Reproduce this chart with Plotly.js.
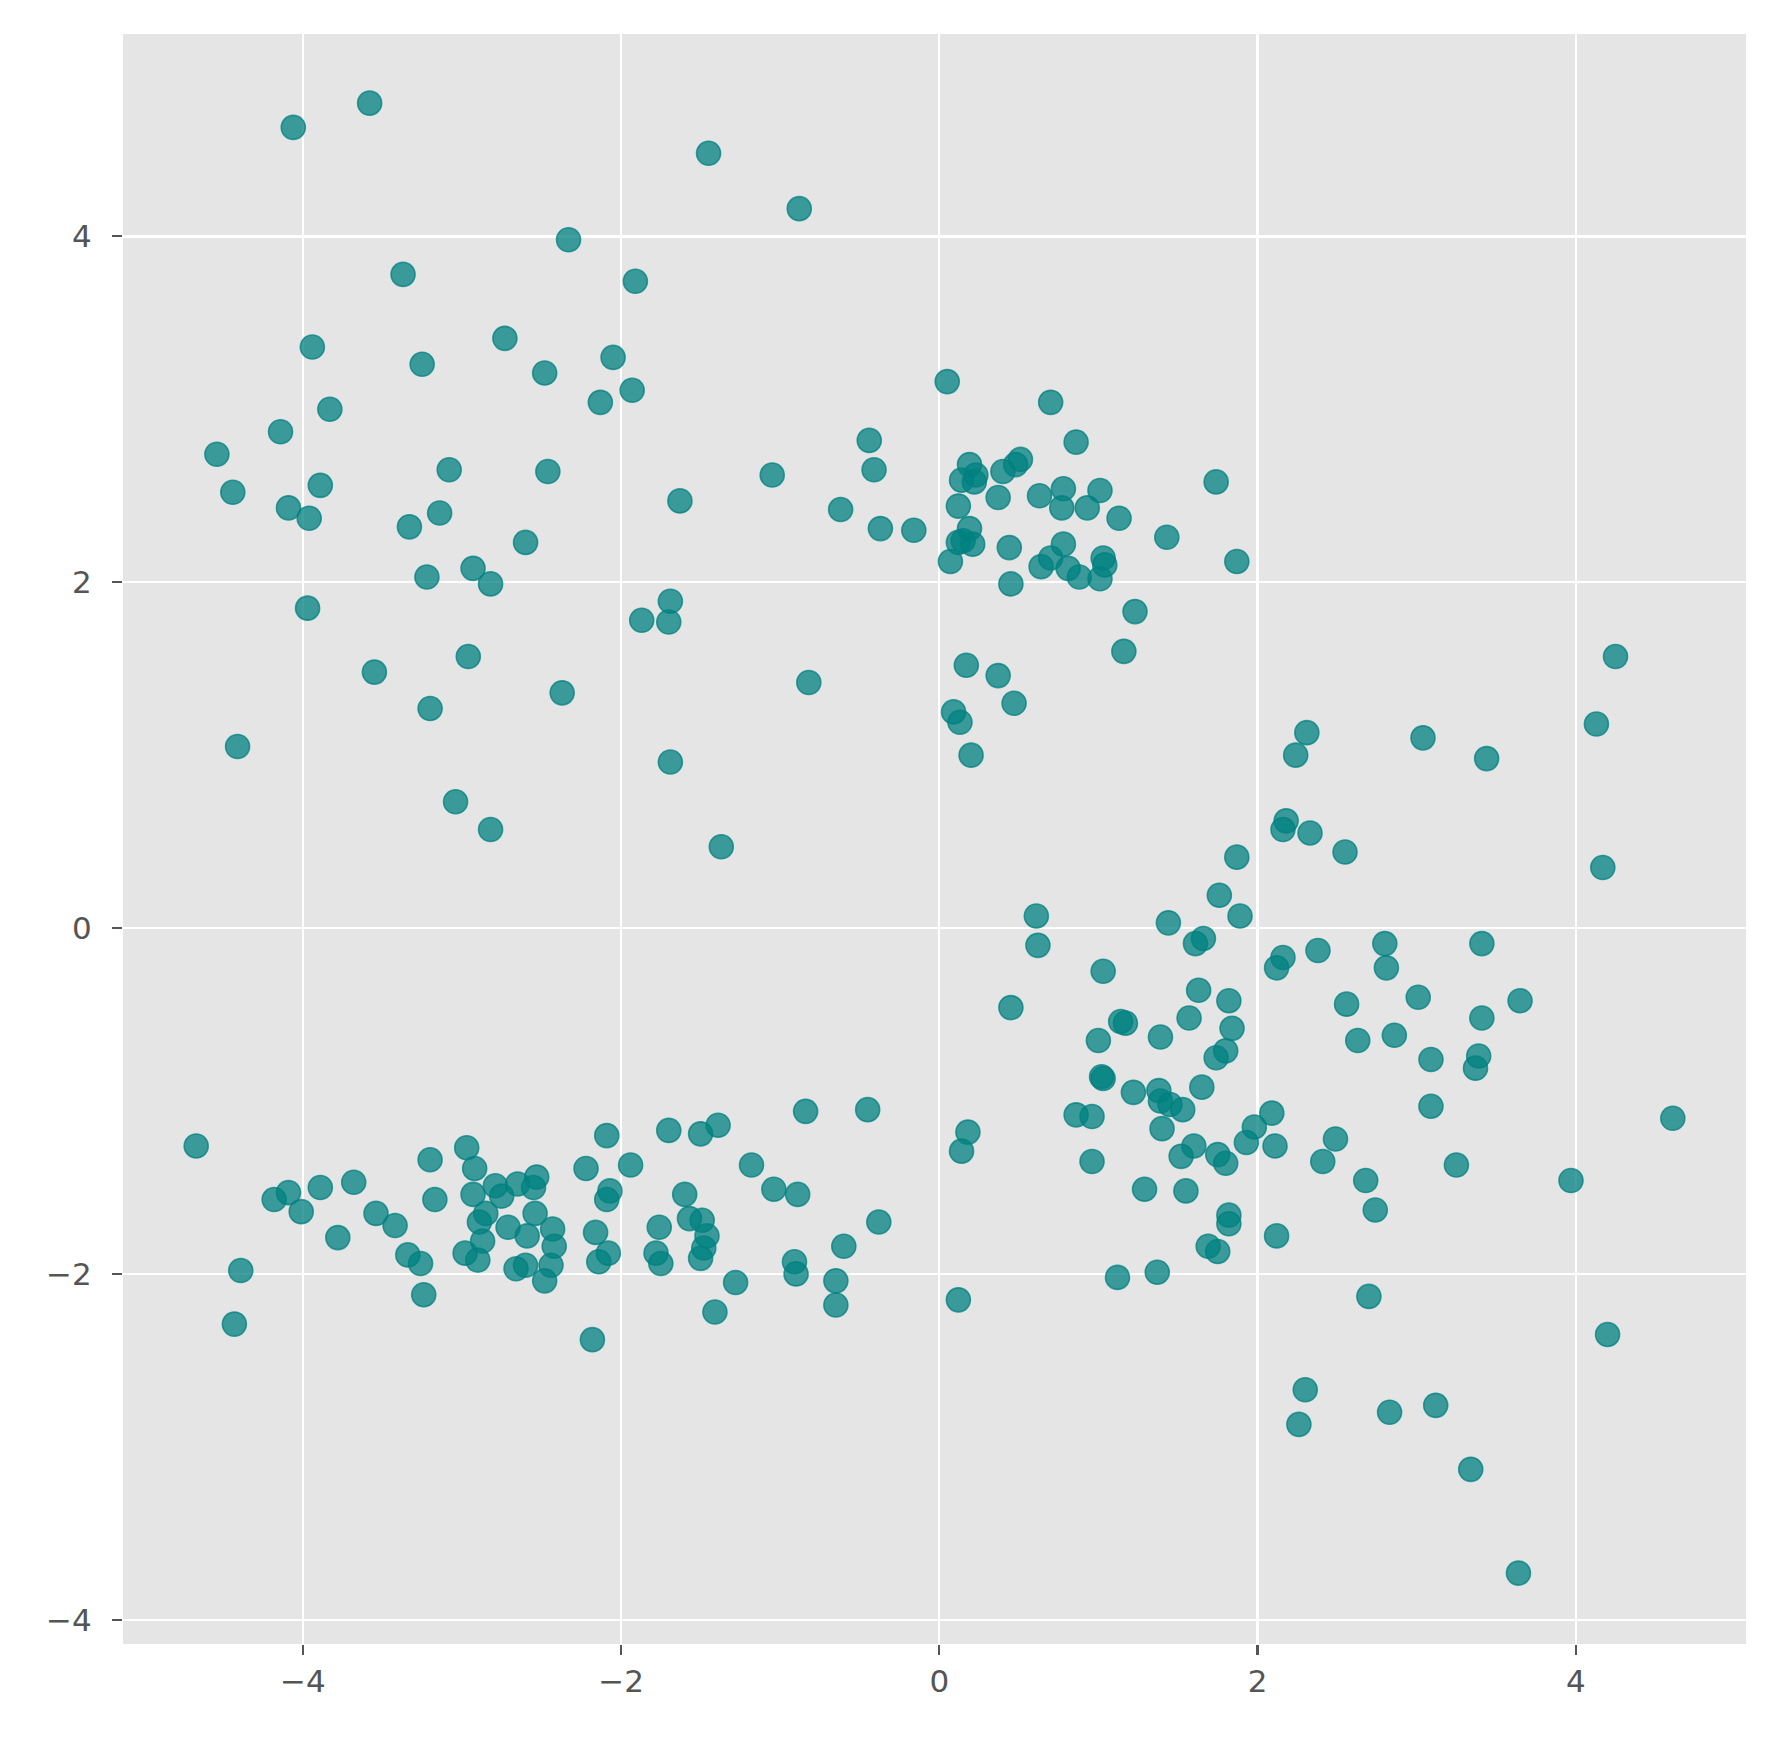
<!DOCTYPE html>
<html>
<head>
<meta charset="utf-8">
<script src="https://cdn.plot.ly/plotly-3.0.1.min.js"></script>
<style>
  html, body { margin: 0; padding: 0; background: #ffffff; }
  #chart { width: 1778px; height: 1746px; }
</style>
</head>
<body>
<div id="chart"></div>
<script>
// Upper-left group
const xUpperLeft = [-3.58,-4.06,-1.45,-0.88,-2.33,-3.37,-1.91,-3.94,-2.73,-3.25,-2.48,-2.05,-3.83,-2.13,-1.93,-4.14,-4.54,-4.44,-3.08,-2.46,-3.89,-4.09,-3.96,-3.14,-3.33,-1.63,-2.60,-2.93,-3.22,-2.82,-3.97,-1.69,-1.87,-1.70,-2.96,-3.55,-2.37,-3.20,-4.41,-1.69,-3.04,-2.82,-1.37,-0.82];
const yUpperLeft = [4.77,4.63,4.48,4.16,3.98,3.78,3.74,3.36,3.41,3.26,3.21,3.30,3.00,3.04,3.11,2.87,2.74,2.52,2.65,2.64,2.56,2.43,2.37,2.40,2.32,2.47,2.23,2.08,2.03,1.99,1.85,1.89,1.78,1.77,1.57,1.48,1.36,1.27,1.05,0.96,0.73,0.57,0.47,1.42];

// Upper-middle group
const xUpperMid = [-1.05,-0.44,-0.41,-0.62,-0.37,-0.16,0.05,0.70,0.86,0.19,0.23,0.22,0.14,0.40,0.48,0.51,0.12,0.37,0.63,0.78,1.01,0.77,0.93,1.13,1.74,1.43,0.19,0.12,0.15,0.21,0.44,0.78,0.07,0.64,0.70,0.81,0.88,1.01,1.03,1.04,0.45,1.87,1.23,1.16,0.17,0.37,0.47,0.09,0.13,0.20];
const yUpperMid = [2.62,2.82,2.65,2.42,2.31,2.30,3.16,3.04,2.81,2.68,2.62,2.58,2.59,2.64,2.68,2.71,2.44,2.49,2.50,2.54,2.53,2.43,2.43,2.37,2.58,2.26,2.31,2.23,2.24,2.22,2.20,2.22,2.12,2.09,2.14,2.08,2.03,2.02,2.14,2.10,1.99,2.12,1.83,1.60,1.52,1.46,1.30,1.25,1.19,1.00];

// Lower-right group
const xLowerRight = [2.31,2.24,3.04,3.44,4.25,4.13,2.18,2.16,2.33,2.55,1.87,4.17,1.76,1.89,0.61,0.62,1.44,1.61,1.66,2.16,2.12,2.38,2.80,2.81,3.41,1.63,1.82,2.56,3.01,3.65,3.41,1.84,2.63,2.86,1.80,1.74,3.09,3.39,3.37,1.65,3.09,4.61,2.09,1.98,1.93,2.11,2.49,1.60,1.75,1.80,2.41,2.68,3.25,3.97,2.74,1.82,1.82,2.12,1.69,1.75,2.70,4.20,2.30,2.26,2.83,3.12,3.34,3.64,1.03,0.45,1.57,1.14,1.17,1.00,1.39,1.02,1.03,1.22,1.38,1.39,1.45,1.53,0.86,0.96,1.40,1.52,0.18,0.14,0.96,1.29,1.55,0.12,1.12,1.37];
const yLowerRight = [1.13,1.00,1.10,0.98,1.57,1.18,0.62,0.57,0.55,0.44,0.41,0.35,0.19,0.07,0.07,-0.10,0.03,-0.09,-0.06,-0.17,-0.23,-0.13,-0.09,-0.23,-0.09,-0.36,-0.42,-0.44,-0.40,-0.42,-0.52,-0.58,-0.65,-0.62,-0.71,-0.75,-0.76,-0.74,-0.81,-0.92,-1.03,-1.10,-1.07,-1.15,-1.24,-1.26,-1.22,-1.26,-1.31,-1.36,-1.35,-1.46,-1.37,-1.46,-1.63,-1.66,-1.71,-1.78,-1.84,-1.87,-2.13,-2.35,-2.67,-2.87,-2.80,-2.76,-3.13,-3.73,-0.25,-0.46,-0.52,-0.54,-0.55,-0.65,-0.63,-0.86,-0.87,-0.95,-0.94,-1.00,-1.02,-1.05,-1.08,-1.09,-1.16,-1.32,-1.18,-1.29,-1.35,-1.51,-1.52,-2.15,-2.02,-1.99];

// Lower-left group
const xLowerLeft = [-4.67,-4.18,-4.09,-4.01,-3.89,-3.68,-3.54,-3.42,-3.78,-3.20,-2.97,-2.92,-3.17,-2.93,-2.79,-2.75,-2.65,-2.53,-2.55,-2.85,-2.89,-2.71,-2.59,-2.54,-2.43,-2.42,-2.87,-2.22,-2.09,-1.94,-2.07,-2.09,-2.16,-1.76,-1.70,-4.39,-4.43,-3.34,-3.26,-3.24,-2.98,-2.90,-2.66,-2.60,-2.44,-2.48,-2.18,-2.14,-2.08,-1.78,-1.75,-1.50,-1.39,-0.84,-0.45,-1.18,-1.04,-0.89,-1.60,-1.57,-1.49,-1.46,-0.38,-0.60,-1.48,-1.50,-1.28,-1.41,-0.91,-0.90,-0.65,-0.65];
const yLowerLeft = [-1.26,-1.57,-1.53,-1.64,-1.50,-1.47,-1.65,-1.72,-1.79,-1.34,-1.27,-1.39,-1.57,-1.54,-1.49,-1.55,-1.48,-1.44,-1.50,-1.65,-1.70,-1.73,-1.78,-1.65,-1.74,-1.84,-1.81,-1.39,-1.20,-1.37,-1.52,-1.57,-1.76,-1.73,-1.17,-1.98,-2.29,-1.89,-1.94,-2.12,-1.88,-1.92,-1.97,-1.95,-1.95,-2.04,-2.38,-1.93,-1.88,-1.88,-1.94,-1.19,-1.14,-1.06,-1.05,-1.37,-1.51,-1.54,-1.54,-1.68,-1.69,-1.78,-1.70,-1.84,-1.85,-1.91,-2.05,-2.22,-1.93,-2.00,-2.04,-2.18];

const tickVals = [-4, -2, 0, 2, 4];

const xAll = [].concat(xUpperLeft, xUpperMid, xLowerRight, xLowerLeft);
const yAll = [].concat(yUpperLeft, yUpperMid, yLowerRight, yLowerLeft);

const trace = {
  type: 'scatter',
  mode: 'markers',
  x: xAll,
  y: yAll,
  marker: {
    size: 24,
    color: 'rgba(0,128,128,0.75)',
    line: { color: 'rgba(0,128,128,0.75)', width: 1.6 }
  },
  hoverinfo: 'x+y'
};

const axisCommon = {
  showgrid: true,
  gridcolor: '#ffffff',
  gridwidth: 2.4,
  zeroline: false,
  showline: false,
  ticks: 'outside',
  ticklen: 10,
  tickwidth: 2.2,
  tickcolor: '#555555',
  tickvals: tickVals,
  tickfont: { family: 'DejaVu Sans, sans-serif', size: 31, color: '#555555' }
};

const layout = {
  width: 1778,
  height: 1746,
  paper_bgcolor: '#ffffff',
  plot_bgcolor: '#E5E5E5',
  showlegend: false,
  margin: { l: 123, r: 32, t: 34, b: 102 },
  xaxis: Object.assign({}, axisCommon, { range: [-5.13, 5.07], ticklabelstandoff: 0 }),
  yaxis: Object.assign({}, axisCommon, { range: [-4.14, 5.17], ticklabelstandoff: 14 })
};

Plotly.newPlot('chart', [trace], layout, { displayModeBar: false, staticPlot: true });
</script>
</body>
</html>
